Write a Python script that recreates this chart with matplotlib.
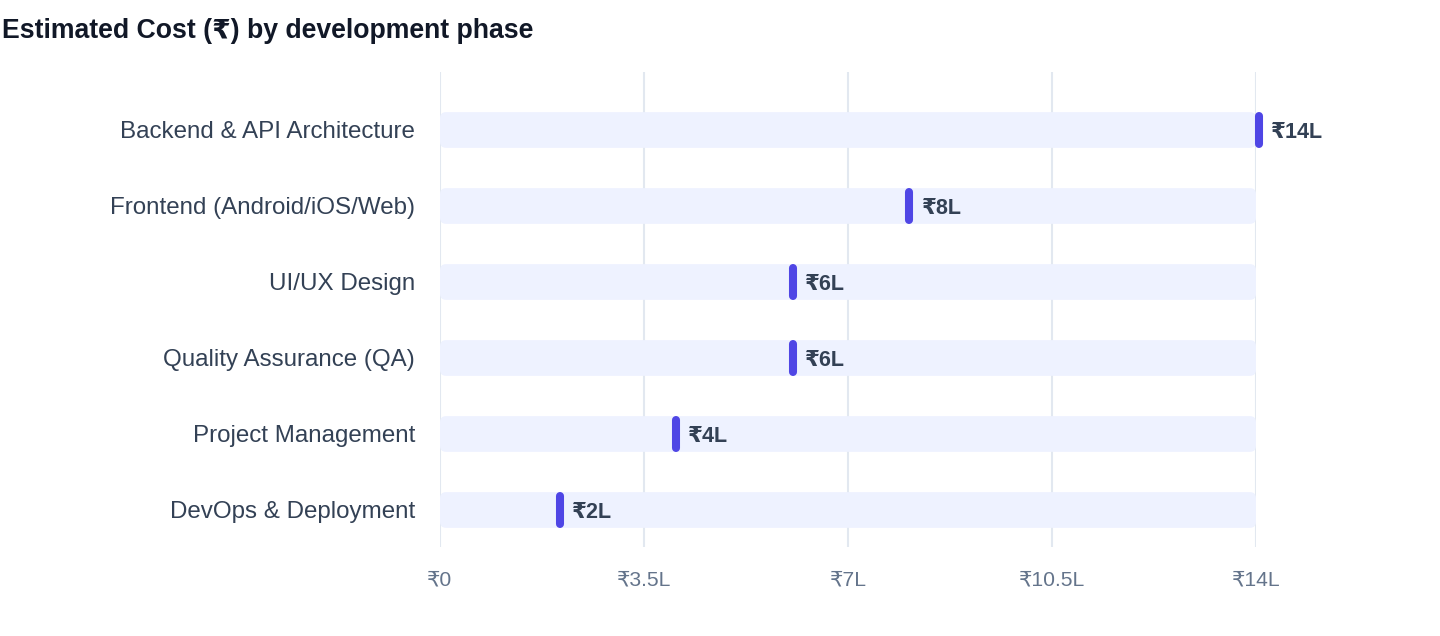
import matplotlib
matplotlib.use("Agg")
import matplotlib.pyplot as plt
import matplotlib.transforms as mtransforms
from matplotlib.patches import FancyBboxPatch

plt.rcParams['font.family'] = ['Liberation Sans', 'DejaVu Sans']

# data (in lakh rupees)
phases = ['DevOps & Deployment', 'Project Management', 'Quality Assurance (QA)',
          'UI/UX Design', 'Frontend (Android/iOS/Web)', 'Backend & API Architecture']
costs = [2, 4, 6, 6, 8, 14]
value_labels = ['₹2L', '₹4L', '₹6L', '₹6L', '₹8L', '₹14L']
track_max = 14
ticks = [0, 3.5, 7, 10.5, 14]
tick_labels = ['₹0', '₹3.5L', '₹7L', '₹10.5L', '₹14L']

fig = plt.figure(figsize=(14.4, 6.36), dpi=100)
ax = fig.add_axes([440 / 1440, 89 / 636, 816 / 1440, 475 / 636])

ax.set_xlim(0, 14)
ax.set_ylim(-0.487, 5.763)

bar_h = 0.47
x_px = 816 / 14
y_px = 475 / 6.25

# background tracks
for i in range(len(phases)):
    box = FancyBboxPatch((0, i - bar_h / 2), track_max, bar_h,
                         boxstyle="round,pad=0,rounding_size=%f" % (6 / x_px),
                         mutation_aspect=x_px / y_px,
                         facecolor='#EEF2FF', edgecolor='none', zorder=2)
    ax.add_patch(box)

# markers + value labels
shift = mtransforms.ScaledTranslation(3 / 100, 0, fig.dpi_scale_trans)
cap = 4 / y_px
for i, (c, lab) in enumerate(zip(costs, value_labels)):
    ax.plot([c, c], [i - bar_h / 2 + cap, i + bar_h / 2 - cap], color='#4F46E5',
            lw=5.8, solid_capstyle='round', zorder=4, clip_on=False,
            transform=ax.transData + shift)
    ax.annotate(lab, (c, i), xytext=(11, 0), textcoords='offset points',
                ha='left', va='center_baseline', fontsize=15.5, fontweight='bold',
                color='#334155', zorder=5, annotation_clip=False)

ax.set_yticks(range(len(phases)))
ax.set_yticklabels(phases, fontsize=17.4, color='#334155', va='center_baseline')
ax.set_xticks(ticks)
ax.set_xticklabels(tick_labels, fontsize=15.2, color='#64748B')
ax.tick_params(axis='y', length=0, pad=18)
ax.tick_params(axis='x', length=0, pad=17)

ax.grid(axis='x', color='#E2E8F0', lw=1.5, zorder=0)
ax.set_axisbelow(True)
for s in ax.spines.values():
    s.set_visible(False)

fig.text(2 / 1440, 1 - 31 / 636, 'Estimated Cost (₹) by development phase',
         fontsize=19.2, fontweight='bold', color='#111827', ha='left', va='center')

fig.savefig('out.png', dpi=100)
